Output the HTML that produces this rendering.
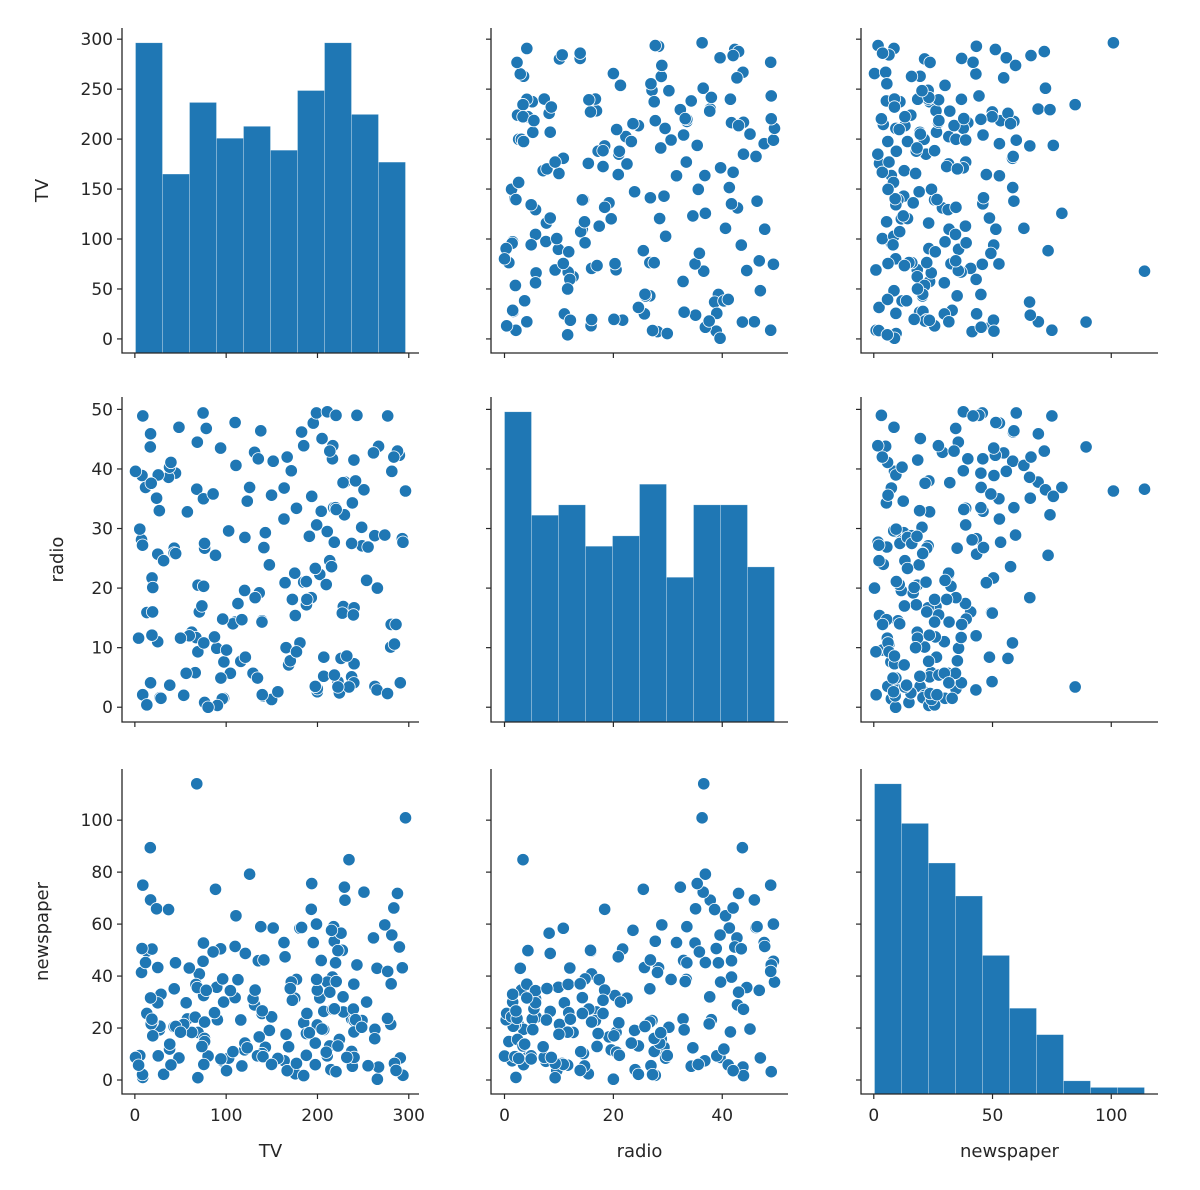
<!DOCTYPE html>
<html><head><meta charset="utf-8">
<style>
html,body{margin:0;padding:0;background:#fff;}
svg{display:block;font-family:"DejaVu Sans","Liberation Sans",sans-serif;}
</style></head>
<body>
<svg id="chart" width="1200" height="1190" viewBox="0 0 1200 1190" xmlns="http://www.w3.org/2000/svg"></svg>
<script>
const tv=[230.1,44.5,17.2,151.5,180.8,8.7,57.5,120.2,8.6,199.8,66.1,214.7,23.8,97.5,204.1,195.4,67.8,281.4,69.2,147.3,218.4,237.4,13.2,228.3,62.3,262.9,142.9,240.1,248.8,70.6,292.9,112.9,97.2,265.6,95.7,290.7,266.9,74.7,43.1,228,202.5,177,293.6,206.9,25.1,175.1,89.7,239.9,227.2,66.9,199.8,100.4,216.4,182.6,262.7,198.9,7.3,136.2,210.8,210.7,53.5,261.3,239.3,102.7,131.1,69,31.5,139.3,237.4,216.8,199.1,109.8,26.8,129.4,213.4,16.9,27.5,120.5,5.4,116,76.4,239.8,75.3,68.4,213.5,193.2,76.3,110.7,88.3,109.8,134.3,28.6,217.7,250.9,107.4,163.3,197.6,184.9,289.7,135.2,222.4,296.4,280.2,187.9,238.2,137.9,25,90.4,13.1,255.4,225.8,241.7,175.7,209.6,78.2,75.1,139.2,76.4,125.7,19.4,141.3,18.8,224,123.1,229.5,87.2,7.8,80.2,220.3,59.6,0.7,265.2,8.4,219.8,36.9,48.3,25.6,273.7,43,184.9,73.4,193.7,220.5,104.6,96.2,140.3,240.1,243.2,38,44.7,280.7,121,197.6,171.3,187.8,4.1,93.9,149.8,11.7,131.7,172.5,85.7,188.4,163.5,117.2,234.5,17.9,206.8,215.4,284.3,50,164.5,19.6,168.4,222.4,276.9,248.4,170.2,276.7,165.6,156.6,218.5,56.2,287.6,253.8,205,139.5,191.1,286,18.7,39.5,75.5,17.2,166.8,149.7,38.2,94.2,177,283.6,232.1];
const radio=[37.8,39.3,45.9,41.3,10.8,48.9,32.8,19.6,2.1,2.6,5.8,24,35.1,7.6,32.9,47.7,36.6,39.6,20.5,23.9,27.7,5.1,15.9,16.9,12.6,3.5,29.3,16.7,27.1,16,28.3,17.4,1.5,20,1.4,4.1,43.8,49.4,26.7,37.7,22.3,33.4,27.7,8.4,25.7,22.5,9.9,41.5,15.8,11.7,3.1,9.6,41.7,46.2,28.8,49.4,28.1,19.2,49.6,29.5,2,42.7,15.5,29.6,42.8,9.3,24.6,14.5,27.5,43.9,30.6,14.3,33,5.7,24.6,43.7,1.6,28.5,29.9,7.7,26.7,4.1,20.3,44.5,43,18.4,27.5,40.6,25.5,47.8,4.9,1.5,33.5,36.5,14,31.6,3.5,21,42.3,41.7,4.3,36.3,10.1,17.2,34.3,46.4,11,0.3,0.4,26.9,8.2,38,15.4,20.6,46.8,35,14.3,0.8,36.9,16,26.8,21.7,2.4,34.6,32.3,11.8,38.9,0,49,12,39.6,2.9,27.2,33.5,38.6,47,39,28.9,25.9,43.9,17,35.4,33.2,5.7,14.8,1.9,7.3,49,40.3,25.8,13.9,8.4,23.3,39.7,21.1,11.6,43.5,1.3,36.9,18.4,18.1,35.8,18.1,36.8,14.7,3.4,37.6,5.2,23.6,10.6,11.6,20.9,20.1,7.1,3.4,48.9,30.2,7.8,2.3,10,2.6,5.4,5.7,43,21.3,45.1,2.1,28.7,13.9,12.1,41.1,10.8,4.1,42,35.6,3.7,4.9,9.3,42,8.6];
const newspaper=[69.2,45.1,69.3,58.5,58.4,75,23.5,11.6,1,21.2,24.2,4,65.9,7.2,46,52.9,114,55.8,18.3,19.1,53.4,23.5,49.6,26.2,18.3,19.5,12.6,22.9,22.9,40.8,43.2,38.6,30,0.3,7.4,8.5,5,45.7,35.1,32,31.6,38.7,1.8,26.4,43.3,31.5,35.7,18.5,49.9,36.8,34.6,3.6,39.6,58.7,15.9,60,41.4,16.6,37.7,9.3,21.4,54.7,27.3,8.4,28.9,0.9,2.2,10.2,11,27.2,38.7,31.7,19.3,31.3,13.1,89.4,20.7,14.2,9.4,23.1,22.3,36.9,32.5,35.6,33.8,65.7,16,63.2,73.4,51.4,9.3,33,59,72.3,10.9,52.9,5.9,22,51.2,45.9,49.8,100.9,21.4,17.9,5.3,59,29.7,23.2,25.6,5.5,56.5,23.2,2.4,10.7,34.5,52.7,25.6,14.8,79.2,22.3,46.2,50.4,15.6,12.4,74.2,25.9,50.6,9.2,3.2,43.1,8.7,43,2.1,45.1,65.6,8.5,9.3,59.7,20.5,1.7,12.9,75.6,37.9,34.4,38.9,9,8.7,44.3,11.9,20.6,37,48.7,14.2,37.7,9.5,5.7,50.5,24.3,45.2,34.6,30.7,49.3,25.6,7.4,5.4,84.8,21.6,19.4,57.6,6.4,18.4,47.4,17,12.8,13.1,41.8,20.3,35.2,23.7,17.6,8.3,27.4,29.7,71.8,30,19.6,26.6,18.2,3.7,23.4,5.8,6,31.6,3.6,6,13.8,8.1,6.4,66.2,8.7];
const varNames=["TV","radio","newspaper"];
const tickVals=[[0,50,100,150,200,250,300],[0,10,20,30,40,50],[0,20,40,60,80,100]];
const xTickVals=[[0,100,200,300],[0,20,40],[0,50,100]];
const nBins=10;

const data=[tv,radio,newspaper];
const svg=document.getElementById('chart');
const NS="http://www.w3.org/2000/svg";
const colL=[122,491,861], rowT=[28,397,769], W=297, H=325;
const COLOR="#1f77b4", TXT="#262626";
function mk(tag,attrs,parent){const e=document.createElementNS(NS,tag);for(const k in attrs)e.setAttribute(k,attrs[k]);(parent||svg).appendChild(e);return e;}
const dom=data.map(d=>{const mn=Math.min(...d),mx=Math.max(...d),m=(mx-mn)*0.05;return [mn-m,mx+m,mn,mx];});
function sx(j,v){return colL[j]+(v-dom[j][0])/(dom[j][1]-dom[j][0])*W;}
function sy(i,v){return rowT[i]+H-(v-dom[i][0])/(dom[i][1]-dom[i][0])*H;}

for(let i=0;i<3;i++){for(let j=0;j<3;j++){
  const g=mk('g',{});
  
  
  const x0=colL[j], y0=rowT[i];
  if(i===j){
    const d=data[i],mn=dom[i][2],mx=dom[i][3],bw=(mx-mn)/nBins;
    const counts=new Array(nBins).fill(0);
    d.forEach(v=>{let b=Math.floor((v-mn)/bw);if(b>=nBins)b=nBins-1;counts[b]++;});
    const cmax=Math.max(...counts);
    const topY=sy(i,mx), base=y0+H;
    counts.forEach((c,b)=>{
      const xa=sx(j,mn+b*bw), xb=sx(j,mn+(b+1)*bw);
      const h=(base-topY)*c/cmax;
      const r=mk('rect',{x:xa,y:base-h,width:xb-xa,height:h,fill:COLOR,stroke:"#ffffff","stroke-width":0.6,"stroke-opacity":0.5},g);
      
      
    });
  } else {
    const dx=data[j], dy=data[i];
    for(let k=0;k<dx.length;k++){
      const c=mk('circle',{cx:sx(j,dx[k]),cy:sy(i,dy[k]),r:6.2,fill:COLOR,stroke:"#ffffff","stroke-width":0.8},g);
      
      
    }
  }
  // spines
  const sp=mk('path',{d:`M${x0},${y0} L${x0},${y0+H} L${x0+W},${y0+H}`,fill:"none",stroke:TXT,"stroke-width":1.3},g);
  
  
  // y ticks
  tickVals[i].forEach(t=>{
    const y=sy(i,t);
    mk('line',{x1:x0-5,x2:x0,y1:y,y2:y,stroke:TXT,"stroke-width":1.2},g);
    if(j===0){const tx=mk('text',{x:x0-9,y:y+6,"text-anchor":"end","font-size":17,fill:TXT},g);tx.textContent=t;
      
      }
  });
  xTickVals[j].forEach(t=>{
    const x=sx(j,t);
    mk('line',{x1:x,x2:x,y1:y0+H,y2:y0+H+5,stroke:TXT,"stroke-width":1.2},g);
    if(i===2){const tx=mk('text',{x:x,y:y0+H+27,"text-anchor":"middle","font-size":17,fill:TXT},g);tx.textContent=t;
      
      }
  });
}}
const yLabX=[48,63,48];
for(let i=0;i<3;i++){
  const cy=rowT[i]+H/2;
  const t=mk('text',{x:yLabX[i],y:cy,"text-anchor":"middle","font-size":18,fill:TXT,transform:`rotate(-90 ${yLabX[i]} ${cy})`});
  t.textContent=varNames[i];
  
  
  const cx=colL[i]+W/2;
  const t2=mk('text',{x:cx,y:1157,"text-anchor":"middle","font-size":18,fill:TXT});
  t2.textContent=varNames[i];
  
  
}
</script>
</body></html>
